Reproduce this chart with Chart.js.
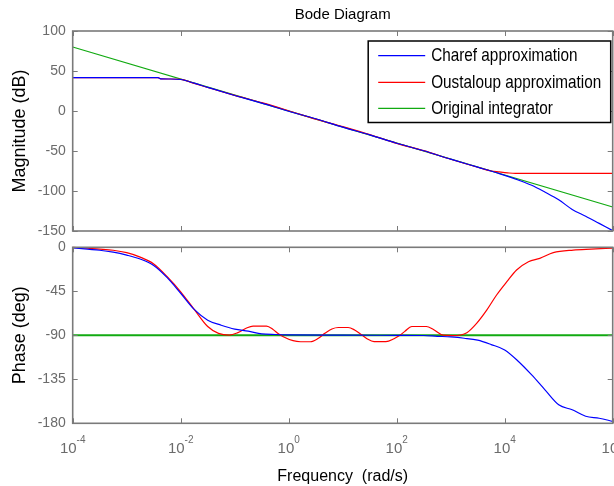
<!DOCTYPE html>
<html><head><meta charset="utf-8">
<script src="https://cdn.jsdelivr.net/npm/chart.js@4/dist/chart.umd.min.js"></script>
<style>
html,body{margin:0;padding:0;background:#fff;}
#wrap{position:relative;width:614px;height:486px;overflow:hidden;background:#fff;}
#mag{position:absolute;left:0;top:0;}
#pha{position:absolute;left:0;top:240px;}
</style></head><body>
<div id="wrap"><canvas id="mag" width="614" height="240"></canvas><canvas id="pha" width="614" height="246"></canvas></div>
<script>
// ---------- data ----------
const chartTitle = 'Bode Diagram';
const seriesNames = ['Charef approximation', 'Oustaloup approximation', 'Original integrator'];
const magAxisTitle = 'Magnitude (dB)';
const phaseAxisTitle = 'Phase (deg)';
const freqAxisTitle = 'Frequency  (rad/s)';
const xTickBase = '10';
const xTickExponents = [-4, -2, 0, 2, 4, 6];
const magTicks = [100, 50, 0, -50, -100, -150];
const phaseTicks = [0, -45, -90, -135, -180];

// Magnitude (dB) vs log10(frequency)
const charefMagLogW = [-4, -2.42, -2.37, -2.2, -2.0, -1.75, -1.5, -1.0, -0.5, 0, 0.5, 1, 1.5, 2, 2.5, 3, 3.5, 3.9, 4.1, 4.25, 4.5, 4.75, 5.0, 5.25, 5.5, 5.75, 6];
const charefMag = [41.6, 41.6, 40.2, 40.0, 39.4, 34.8, 29.6, 19.4, 9.8, -0.3, -9.7, -20.2, -29.8, -40.3, -49.7, -60.2, -70.2, -78.2, -82.6, -86.2, -92.8, -101.5, -111, -123, -131.5, -140.5, -149.5];
const oustaMagLogW = [-4, -2.42, -2.37, -2.2, -2.0, -1.75, -1.5, -1.0, -0.5, 0, 0.5, 1, 1.5, 2, 2.5, 3, 3.5, 3.75, 3.9, 4.05, 4.2, 5, 6];
const oustaMag = [41.6, 41.6, 40.2, 40.0, 39.5, 34.5, 29.4, 19.6, 10.4, 0.3, -10.2, -19.6, -29.5, -40.4, -49.6, -60.3, -70.3, -75.0, -76.2, -77.3, -78.0, -78.0, -78.0];
const integMagLogW = [-4, 6];
const integMag = [80, -120];

// Phase (deg) vs log10(frequency)
const charefPhaseLogW = [-4, -3.5, -3.25, -3.0, -2.75, -2.5, -2.25, -2.0, -1.75, -1.5, -1.25, -1.0, -0.75, -0.5, -0.25, 0, 1, 2, 2.5, 2.75, 3.0, 3.25, 3.5, 3.75, 4.0, 4.25, 4.5, 4.75, 5.0, 5.25, 5.5, 5.75, 6];
const charefPhase = [-0.5, -3, -5, -8, -12, -18.5, -31, -47, -63.5, -74.5, -79.7, -83.7, -85.8, -88.5, -89.2, -89.5, -89.8, -90, -90.2, -91, -91.7, -93, -95, -99.5, -105, -116.5, -130.5, -146, -161, -166.2, -172.8, -174.8, -178];
const oustaPhaseLogW = [-4, -3.5, -3.25, -3.0, -2.75, -2.5, -2.25, -2.0, -1.75, -1.5, -1.3, -1.1, -0.95, -0.78, -0.66, -0.41, -0.29, -0.19, -0.10, 0.08, 0.22, 0.40, 0.55, 0.67, 0.80, 0.92, 1.10, 1.22, 1.35, 1.45, 1.58, 1.80, 1.95, 2.06, 2.15, 2.28, 2.55, 2.68, 2.86, 3.04, 3.3, 3.48, 3.67, 3.85, 4.04, 4.22, 4.44, 4.65, 4.9, 5.27, 5.6, 6];
const oustaPhase = [0, -1.8, -3, -5.5, -10, -17, -30, -45.5, -63.5, -81, -88, -89.8, -87.5, -82.5, -80.6, -80.6, -84, -88.5, -91.4, -95.5, -96.6, -96.6, -93, -88, -83.5, -82, -82, -84.5, -89.5, -93.5, -96.5, -96.5, -93.5, -90, -86, -81, -81, -84, -89.8, -90.3, -87.3, -77.8, -64, -48.8, -35.2, -23.2, -14.7, -11.3, -5.5, -2.8, -1.8, -0.8];
const integPhaseLogW = [-4, 6];
const integPhase = [-90, -90];

// ---------- styling ----------
const FONT = "'Liberation Sans', Arial, Helvetica, sans-serif";
const TICK_COLOR = '#6b6b6b';
const AXIS_COLOR = '#7a7a7a';
const COLORS = ['#0000ff', '#ff0000', '#11aa11'];

const pts = (lw, v) => lw.map((e, i) => ({ x: Math.pow(10, e), y: v[i] }));
const xTickValues = xTickExponents.map(e => Math.pow(10, e));

const boxPlugin = {
  id: 'boxTicks',
  afterDraw(chart, args, opts) {
    const { ctx, chartArea: a, scales } = chart;
    const x = scales.x, y = scales.y;
    ctx.save();
    ctx.strokeStyle = AXIS_COLOR;
    ctx.lineWidth = 1.6;
    ctx.strokeRect(a.left, a.top, a.right - a.left, a.bottom - a.top);
    ctx.lineWidth = 1;
    const L = 5;
    ctx.beginPath();
    xTickValues.forEach(v => {
      const px = Math.round(x.getPixelForValue(v)) + 0.5;
      ctx.moveTo(px, a.top); ctx.lineTo(px, a.top + L);
      ctx.moveTo(px, a.bottom); ctx.lineTo(px, a.bottom - L);
    });
    (opts.yTicks || []).forEach(v => {
      const py = Math.round(y.getPixelForValue(v)) + 0.5;
      ctx.moveTo(a.left, py); ctx.lineTo(a.left + L, py);
      ctx.moveTo(a.right, py); ctx.lineTo(a.right - L, py);
    });
    ctx.stroke();
    ctx.restore();
  }
};

const legendPlugin = {
  id: 'boxLegend',
  afterDraw(chart, args, opts) {
    if (!opts.show) return;
    const { ctx, chartArea: a } = chart;
    const bx = a.right - 244.5, by = a.top + 10, bw = 242.5, bh = 81.5;
    ctx.save();
    ctx.fillStyle = '#fff';
    ctx.fillRect(bx, by, bw, bh);
    ctx.strokeStyle = '#000';
    ctx.lineWidth = 1.5;
    ctx.strokeRect(bx, by, bw, bh);
    const rows = [14.7, 41.3, 67.3];
    chart.data.datasets.forEach((ds, i) => {
      const ry = by + rows[i];
      ctx.strokeStyle = ds.borderColor;
      ctx.lineWidth = 1.3;
      ctx.beginPath();
      ctx.moveTo(bx + 10, ry); ctx.lineTo(bx + 57, ry);
      ctx.stroke();
      ctx.save();
      ctx.translate(bx + 63, ry);
      ctx.scale(1, 1.2);
      ctx.fillStyle = '#000';
      ctx.font = '15.3px ' + FONT;
      ctx.textBaseline = 'middle';
      ctx.fillText(ds.label, 0, 0.5);
      ctx.restore();
    });
    ctx.restore();
  }
};

const xLabelPlugin = {
  id: 'xPowLabels',
  afterDraw(chart, args, opts) {
    if (!opts.show) return;
    const { ctx, chartArea: a, scales: { x } } = chart;
    ctx.save();
    ctx.fillStyle = TICK_COLOR;
    ctx.textBaseline = 'alphabetic';
    const baseFont = '15px ' + FONT, supFont = '10px ' + FONT;
    xTickExponents.forEach(e => {
      const px = x.getPixelForValue(Math.pow(10, e));
      ctx.font = baseFont; const wb = ctx.measureText(xTickBase).width;
      ctx.font = supFont; const ws = ctx.measureText(String(e)).width;
      const start = px - (wb + ws) / 2;
      ctx.font = baseFont; ctx.fillText(xTickBase, start, a.bottom + 29.5);
      ctx.font = supFont; ctx.fillText(String(e), start + wb, a.bottom + 20);
    });
    ctx.restore();
  }
};

Chart.register(boxPlugin, legendPlugin, xLabelPlugin);

function xScale(showTitle) {
  return {
    type: 'logarithmic', min: 1e-4, max: 1e6,
    display: showTitle,
    afterBuildTicks: s => { s.ticks = xTickValues.map(v => ({ value: v })); },
    grid: { display: false, drawTicks: false },
    border: { display: false },
    ticks: { display: false, padding: 0 },
    title: showTitle ? { display: true, text: freqAxisTitle, color: '#000', font: { family: FONT, size: 16 }, padding: { top: 0, bottom: 0 } } : { display: false },
    afterFit: s => { if (showTitle) s.height = 62.7; }
  };
}
function yScale(min, max, step, title) {
  return {
    type: 'linear', min, max,
    ticks: { stepSize: step, color: TICK_COLOR, padding: 0, font: { family: FONT, size: 14, lineHeight: 1 } },
    grid: { display: false, drawTicks: true, tickLength: 7 },
    border: { display: false },
    title: { display: true, text: title, color: '#000', font: { family: FONT, size: 18 }, padding: { top: 9.2, bottom: 0 } },
    afterFit: s => { s.width = 72.7; }
  };
}
const common = {
  responsive: false, animation: false, events: [],
  plugins: { legend: { display: false }, tooltip: { enabled: false } }
};
const lineDs = (label, data, color, width) => ({
  label, data, borderColor: color, backgroundColor: color, borderWidth: width,
  pointRadius: 0, fill: false, cubicInterpolationMode: 'monotone', clip: 3
});

new Chart(document.getElementById('mag'), {
  type: 'line',
  data: { datasets: [
    lineDs(seriesNames[0], pts(charefMagLogW, charefMag), COLORS[0], 1.2),
    lineDs(seriesNames[1], pts(oustaMagLogW, oustaMag), COLORS[1], 1.2),
    lineDs(seriesNames[2], pts(integMagLogW, integMag), COLORS[2], 1.2)
  ] },
  options: Object.assign({}, common, {
    layout: { autoPadding: false, padding: { top: 0, right: 1.3, bottom: 9, left: 0 } },
    scales: { x: xScale(false), y: yScale(-150, 100, 50, magAxisTitle) },
    plugins: Object.assign({}, common.plugins, {
      title: { display: true, text: chartTitle, color: '#000', fullSize: false, font: { family: FONT, size: 15, weight: 'normal' }, padding: { top: 6, bottom: 7 } },
      boxTicks: { yTicks: magTicks },
      boxLegend: { show: true },
      xPowLabels: { show: false }
    })
  })
});

new Chart(document.getElementById('pha'), {
  type: 'line',
  data: { datasets: [
    lineDs(seriesNames[0], pts(charefPhaseLogW, charefPhase), COLORS[0], 1.2),
    lineDs(seriesNames[1], pts(oustaPhaseLogW, oustaPhase), COLORS[1], 1.2),
    lineDs(seriesNames[2], pts(integPhaseLogW, integPhase), COLORS[2], 2)
  ] },
  options: Object.assign({}, common, {
    layout: { autoPadding: false, padding: { top: 7.3, right: 1.3, bottom: 0, left: 0 } },
    scales: { x: xScale(true), y: yScale(-180, 0, 45, phaseAxisTitle) },
    plugins: Object.assign({}, common.plugins, {
      boxTicks: { yTicks: phaseTicks },
      boxLegend: { show: false },
      xPowLabels: { show: true }
    })
  })
});
</script>
</body></html>
